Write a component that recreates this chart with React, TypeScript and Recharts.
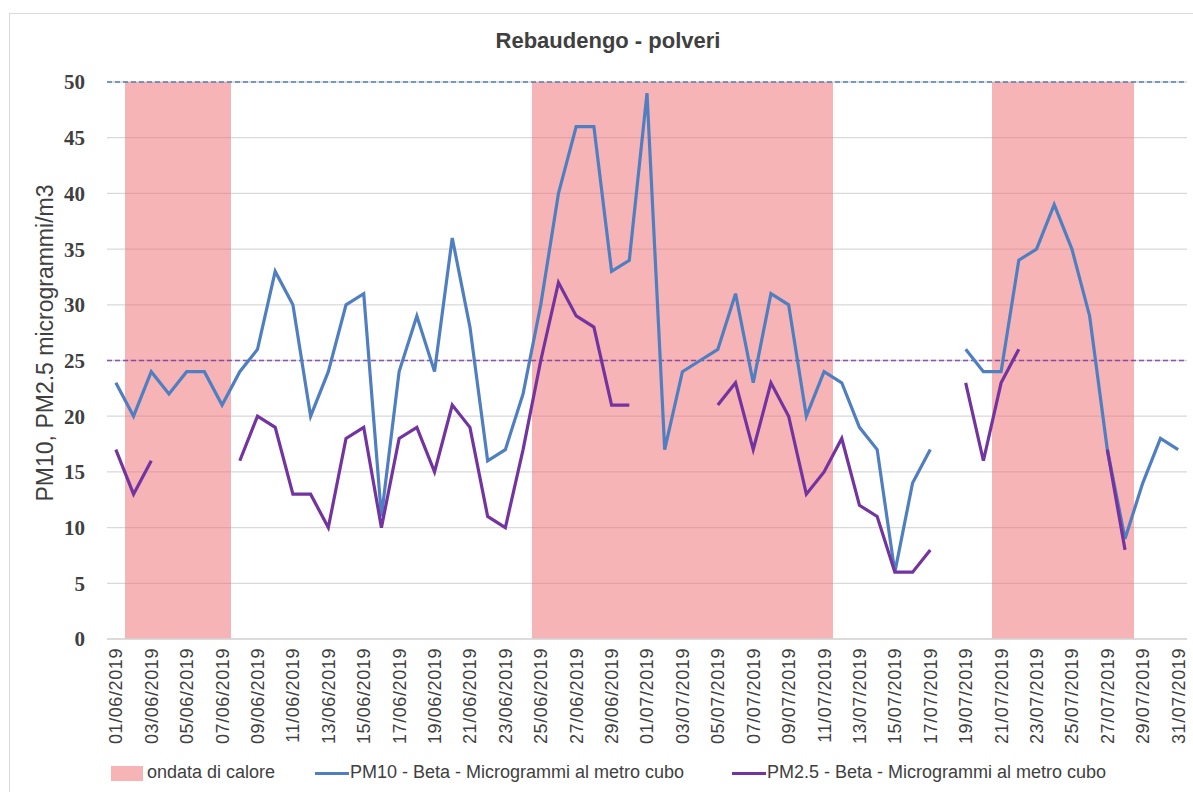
import {
  ComposedChart,
  Bar,
  Line,
  XAxis,
  YAxis,
  CartesianGrid,
  ReferenceLine,
} from 'recharts'

const DATES = [
  '01/06/2019', '02/06/2019', '03/06/2019', '04/06/2019', '05/06/2019', '06/06/2019',
  '07/06/2019', '08/06/2019', '09/06/2019', '10/06/2019', '11/06/2019', '12/06/2019',
  '13/06/2019', '14/06/2019', '15/06/2019', '16/06/2019', '17/06/2019', '18/06/2019',
  '19/06/2019', '20/06/2019', '21/06/2019', '22/06/2019', '23/06/2019', '24/06/2019',
  '25/06/2019', '26/06/2019', '27/06/2019', '28/06/2019', '29/06/2019', '30/06/2019',
  '01/07/2019', '02/07/2019', '03/07/2019', '04/07/2019', '05/07/2019', '06/07/2019',
  '07/07/2019', '08/07/2019', '09/07/2019', '10/07/2019', '11/07/2019', '12/07/2019',
  '13/07/2019', '14/07/2019', '15/07/2019', '16/07/2019', '17/07/2019', '18/07/2019',
  '19/07/2019', '20/07/2019', '21/07/2019', '22/07/2019', '23/07/2019', '24/07/2019',
  '25/07/2019', '26/07/2019', '27/07/2019', '28/07/2019', '29/07/2019', '30/07/2019',
  '31/07/2019',
]

// heat wave days drawn as full-height bars
const ONDATA = [
  null, 50, 50, 50, 50, 50, 50, null, null, null, null, null,
  null, null, null, null, null, null, null, null, null, null, null, null,
  50, 50, 50, 50, 50, 50, 50, 50, 50, 50, 50, 50,
  50, 50, 50, 50, 50, null, null, null, null, null, null, null,
  null, null, 50, 50, 50, 50, 50, 50, 50, 50, null, null,
  null,
]

const PM10 = [
  23, 20, 24, 22, 24, 24, 21, 24, 26, 33, 30, 20,
  24, 30, 31, 11, 24, 29, 24, 36, 28, 16, 17, 22,
  30, 40, 46, 46, 33, 34, 49, 17, 24, 25, 26, 31,
  23, 31, 30, 20, 24, 23, 19, 17, 6, 14, 17, null,
  26, 24, 24, 34, 35, 39, 35, 29, 17, 9, 14, 18,
  17,
]

const PM25 = [
  17, 13, 16, null, null, null, null, 16, 20, 19, 13, 13,
  10, 18, 19, 10, 18, 19, 15, 21, 19, 11, 10, 17,
  25, 32, 29, 28, 21, 21, null, null, null, null, 21, 23,
  17, 23, 20, 13, 15, 18, 12, 11, 6, 6, 8, null,
  23, 16, 23, 26, null, null, null, null, 17, 8, null, null,
  null,
]

const Y_TICKS = [0, 5, 10, 15, 20, 25, 30, 35, 40, 45, 50]

const PINK = '#ED6A6F'
const BLUE = '#4F7FC0'
const PURPLE = '#7334A0'
const TEXT = '#404040'
const FONT = "'Liberation Sans', Arial, sans-serif"

const CHART_W = 1193
const MARGIN = { top: 82, right: 6, left: 47, bottom: 35 }
const Y_AXIS_W = 60
// width of one day on the category axis
const BAND = (CHART_W - MARGIN.left - MARGIN.right - Y_AXIS_W) / DATES.length

const data = DATES.map((d, i) => ({
  date: d,
  ondata: ONDATA[i],
  pm10: PM10[i],
  pm25: PM25[i],
}))

function DateTick({ x, y, payload }: { x: number; y: number; payload: { value: string } }) {
  return (
    <g transform={`translate(${x},${y})`}>
      <text
        transform="rotate(-90)"
        textAnchor="end"
        dy="0.36em"
        fill={TEXT}
        fontSize={18}
        letterSpacing={0.6}
        fontFamily={FONT}
      >
        {payload.value}
      </text>
    </g>
  )
}

// fill the whole day band, snapped to pixels, so neighbouring days join without seams
function HeatBar(props: any) {
  const { x, y, width, height } = props
  if (!height) return null
  const cx = x + width / 2
  const left = Math.round(cx - BAND / 2)
  const right = Math.round(cx + BAND / 2)
  return (
    <rect
      x={left}
      y={Math.round(y)}
      width={right - left}
      height={Math.round(y + height) - Math.round(y)}
      fill={PINK}
      fillOpacity={0.5}
    />
  )
}

export default function App() {
  return (
    <div style={{ position: 'absolute', left: 0, top: 0, width: 1193, height: 792, background: '#fff', overflow: 'hidden' }}>
      <div style={{
        position: 'absolute',
        left: 9,
        top: 13,
        width: 1300,
        height: 900,
        border: '1px solid #d9d9d9',
      }} />
      <div style={{
        position: 'absolute',
        left: 408,
        width: 400,
        top: 28,
        textAlign: 'center',
        fontFamily: FONT,
        fontWeight: 700,
        fontSize: 22,
        color: TEXT,
      }}>
        Rebaudengo - polveri
      </div>
      <div style={{
        position: 'absolute',
        left: 45,
        top: 343,
        transform: 'translate(-50%, -50%) rotate(-90deg)',
        whiteSpace: 'nowrap',
        fontFamily: FONT,
        fontSize: 23,
        color: TEXT,
      }}>
        PM10, PM2.5 microgrammi/m3
      </div>

      <div style={{ position: 'absolute', left: 0, top: 0 }}>
        <ComposedChart
          width={CHART_W}
          height={792}
          data={data}
          barCategoryGap={0}
          barGap={0}
          margin={MARGIN}
        >
          <CartesianGrid vertical={false} stroke="#d9d9d9" strokeWidth={1.3} />
          <XAxis
            dataKey="date"
            interval={1}
            height={118}
            tickLine={false}
            tickSize={0}
            tickMargin={9}
            axisLine={{ stroke: '#d9d9d9', strokeWidth: 1.3 }}
            tick={(props: any) => <DateTick {...props} />}
          />
          <YAxis
            domain={[0, 50]}
            ticks={Y_TICKS}
            width={Y_AXIS_W}
            axisLine={false}
            tickLine={false}
            tickSize={0}
            tickMargin={22}
            tick={{
              fill: TEXT,
              fontSize: 21,
              fontWeight: 700,
              fontFamily: "'Liberation Serif', 'Times New Roman', serif",
            }}
          />
          <Bar
            dataKey="ondata"
            name="ondata di calore"
            fill={PINK}
            shape={(p: any) => <HeatBar {...p} />}
            isAnimationActive={false}
          />
          <ReferenceLine y={50} stroke={BLUE} strokeWidth={1.3} strokeDasharray="5 3" />
          <ReferenceLine y={25} stroke={PURPLE} strokeOpacity={0.8} strokeWidth={1.3} strokeDasharray="5 3" />
          <Line
            type="linear"
            dataKey="pm10"
            name="PM10 - Beta - Microgrammi al metro cubo"
            stroke={BLUE}
            strokeWidth={3.2}
            dot={false}
            activeDot={false}
            connectNulls={false}
            isAnimationActive={false}
          />
          <Line
            type="linear"
            dataKey="pm25"
            name="PM2.5 - Beta - Microgrammi al metro cubo"
            stroke={PURPLE}
            strokeWidth={3.2}
            dot={false}
            activeDot={false}
            connectNulls={false}
            isAnimationActive={false}
          />
        </ComposedChart>
      </div>

      <div style={{ position: 'absolute', left: 0, top: 762, width: 1193, height: 24, fontFamily: FONT, fontSize: 18, color: TEXT, whiteSpace: 'nowrap' }}>
        <span style={{ position: 'absolute', left: 111, top: 4, width: 32, height: 15, background: PINK, opacity: 0.5 }} />
        <span style={{ position: 'absolute', left: 147, top: 0 }}>ondata di calore</span>
        <span style={{ position: 'absolute', left: 315, top: 10, width: 34, height: 3, background: BLUE }} />
        <span style={{ position: 'absolute', left: 350, top: 0 }}>PM10 - Beta - Microgrammi al metro cubo</span>
        <span style={{ position: 'absolute', left: 732, top: 10, width: 34, height: 3, background: PURPLE }} />
        <span style={{ position: 'absolute', left: 767, top: 0 }}>PM2.5 - Beta - Microgrammi al metro cubo</span>
      </div>
    </div>
  )
}
